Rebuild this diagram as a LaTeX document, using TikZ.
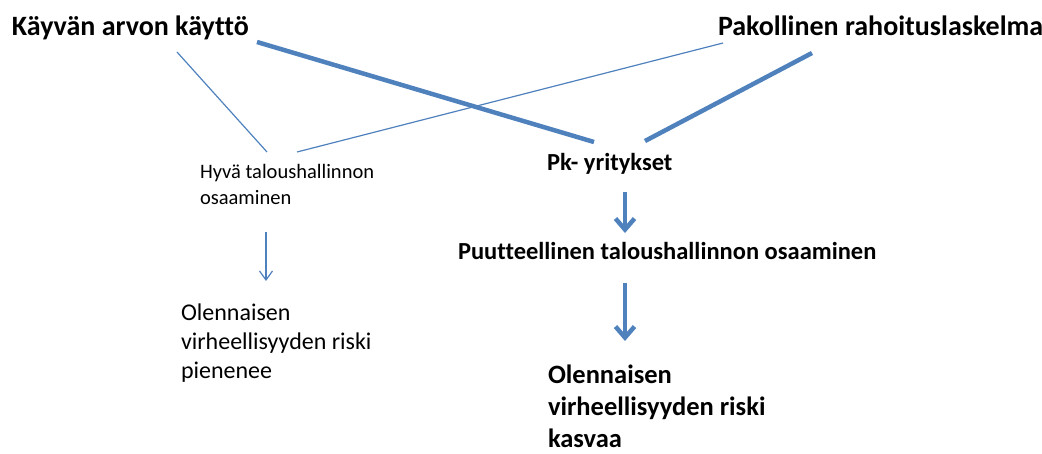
\documentclass[tikz,border=0pt]{standalone}
\usepackage{fontspec}
\setmainfont[Ligatures=NoCommon]{Carlito}
\usetikzlibrary{arrows.meta}
\definecolor{linkblue}{HTML}{4F81BD}
\tikzset{
  every node/.style={inner sep=0pt, outer sep=0pt, align=left},
  heading/.style={anchor=base west, font=\fontsize{28}{32}\selectfont\bfseries},
  midbold/.style={anchor=base west, font=\fontsize{24.5}{28}\selectfont\bfseries},
  smalltext/.style={anchor=base west, font=\fontsize{20.5}{25.5}\selectfont},
  plaintext/.style={anchor=base west, font=\fontsize{24}{29}\selectfont},
  bigbold/.style={anchor=base west, font=\fontsize{26.5}{32}\selectfont\bfseries},
  thinlink/.style={draw=linkblue, line width=1.2pt},
  thicklink/.style={draw=linkblue, line width=4.5pt},
  thinarrow/.style={thinlink, -{Straight Barb[length=9pt,width=13pt,line width=1.2pt]}},
  thickarrow/.style={thicklink, -{Straight Barb[length=11pt,width=19pt,line width=4.5pt]}},
}
\begin{document}
\begin{tikzpicture}[x=1pt, y=-1pt]
  \useasboundingbox (0,0) rectangle (1042,453);

  % texts (multi-line nodes are placed at the baseline of their last line)
  \node[heading] (kav) at (12,35) {Käyvän arvon käyttö};
  \node[heading] (pak) at (718,35) {Pakollinen rahoituslaskelma};
  \node[midbold] (pk) at (547,170) {Pk- yritykset};
  \node[midbold] (puu) at (458,259) {Puutteellinen taloushallinnon osaaminen};
  \node[smalltext] (hyva) at (200,204) {Hyvä taloushallinnon\\osaaminen};
  \node[plaintext] (pien) at (181,378) {Olennaisen\\virheellisyyden riski\\pienenee};
  \node[bigbold] (kasv) at (548,447) {Olennaisen\\virheellisyyden riski\\kasvaa};

  % connector end points
  \coordinate (kavA) at (257,42);
  \coordinate (kavB) at (177,52);
  \coordinate (pakA) at (812,53);
  \coordinate (pakB) at (723,43);
  \coordinate (pkL) at (594,142);
  \coordinate (pkR) at (645,141);
  \coordinate (hyvaL) at (267,152);
  \coordinate (hyvaR) at (297,152);
  \coordinate (hyvaD) at (266,232);
  \coordinate (pienU) at (266,281);
  \coordinate (pkD) at (625,192);
  \coordinate (puuU) at (625,233);
  \coordinate (puuD) at (625,283);
  \coordinate (kasvU) at (625,341);

  % connectors
  \draw[thicklink] (kavA) -- (pkL);
  \draw[thicklink] (pakA) -- (pkR);
  \draw[thinlink] (kavB) -- (hyvaL);
  \draw[thinlink] (pakB) -- (hyvaR);
  \draw[thinarrow] (hyvaD) -- (pienU);
  \draw[thickarrow] (pkD) -- (puuU);
  \draw[thickarrow] (puuD) -- (kasvU);
\end{tikzpicture}
\end{document}
